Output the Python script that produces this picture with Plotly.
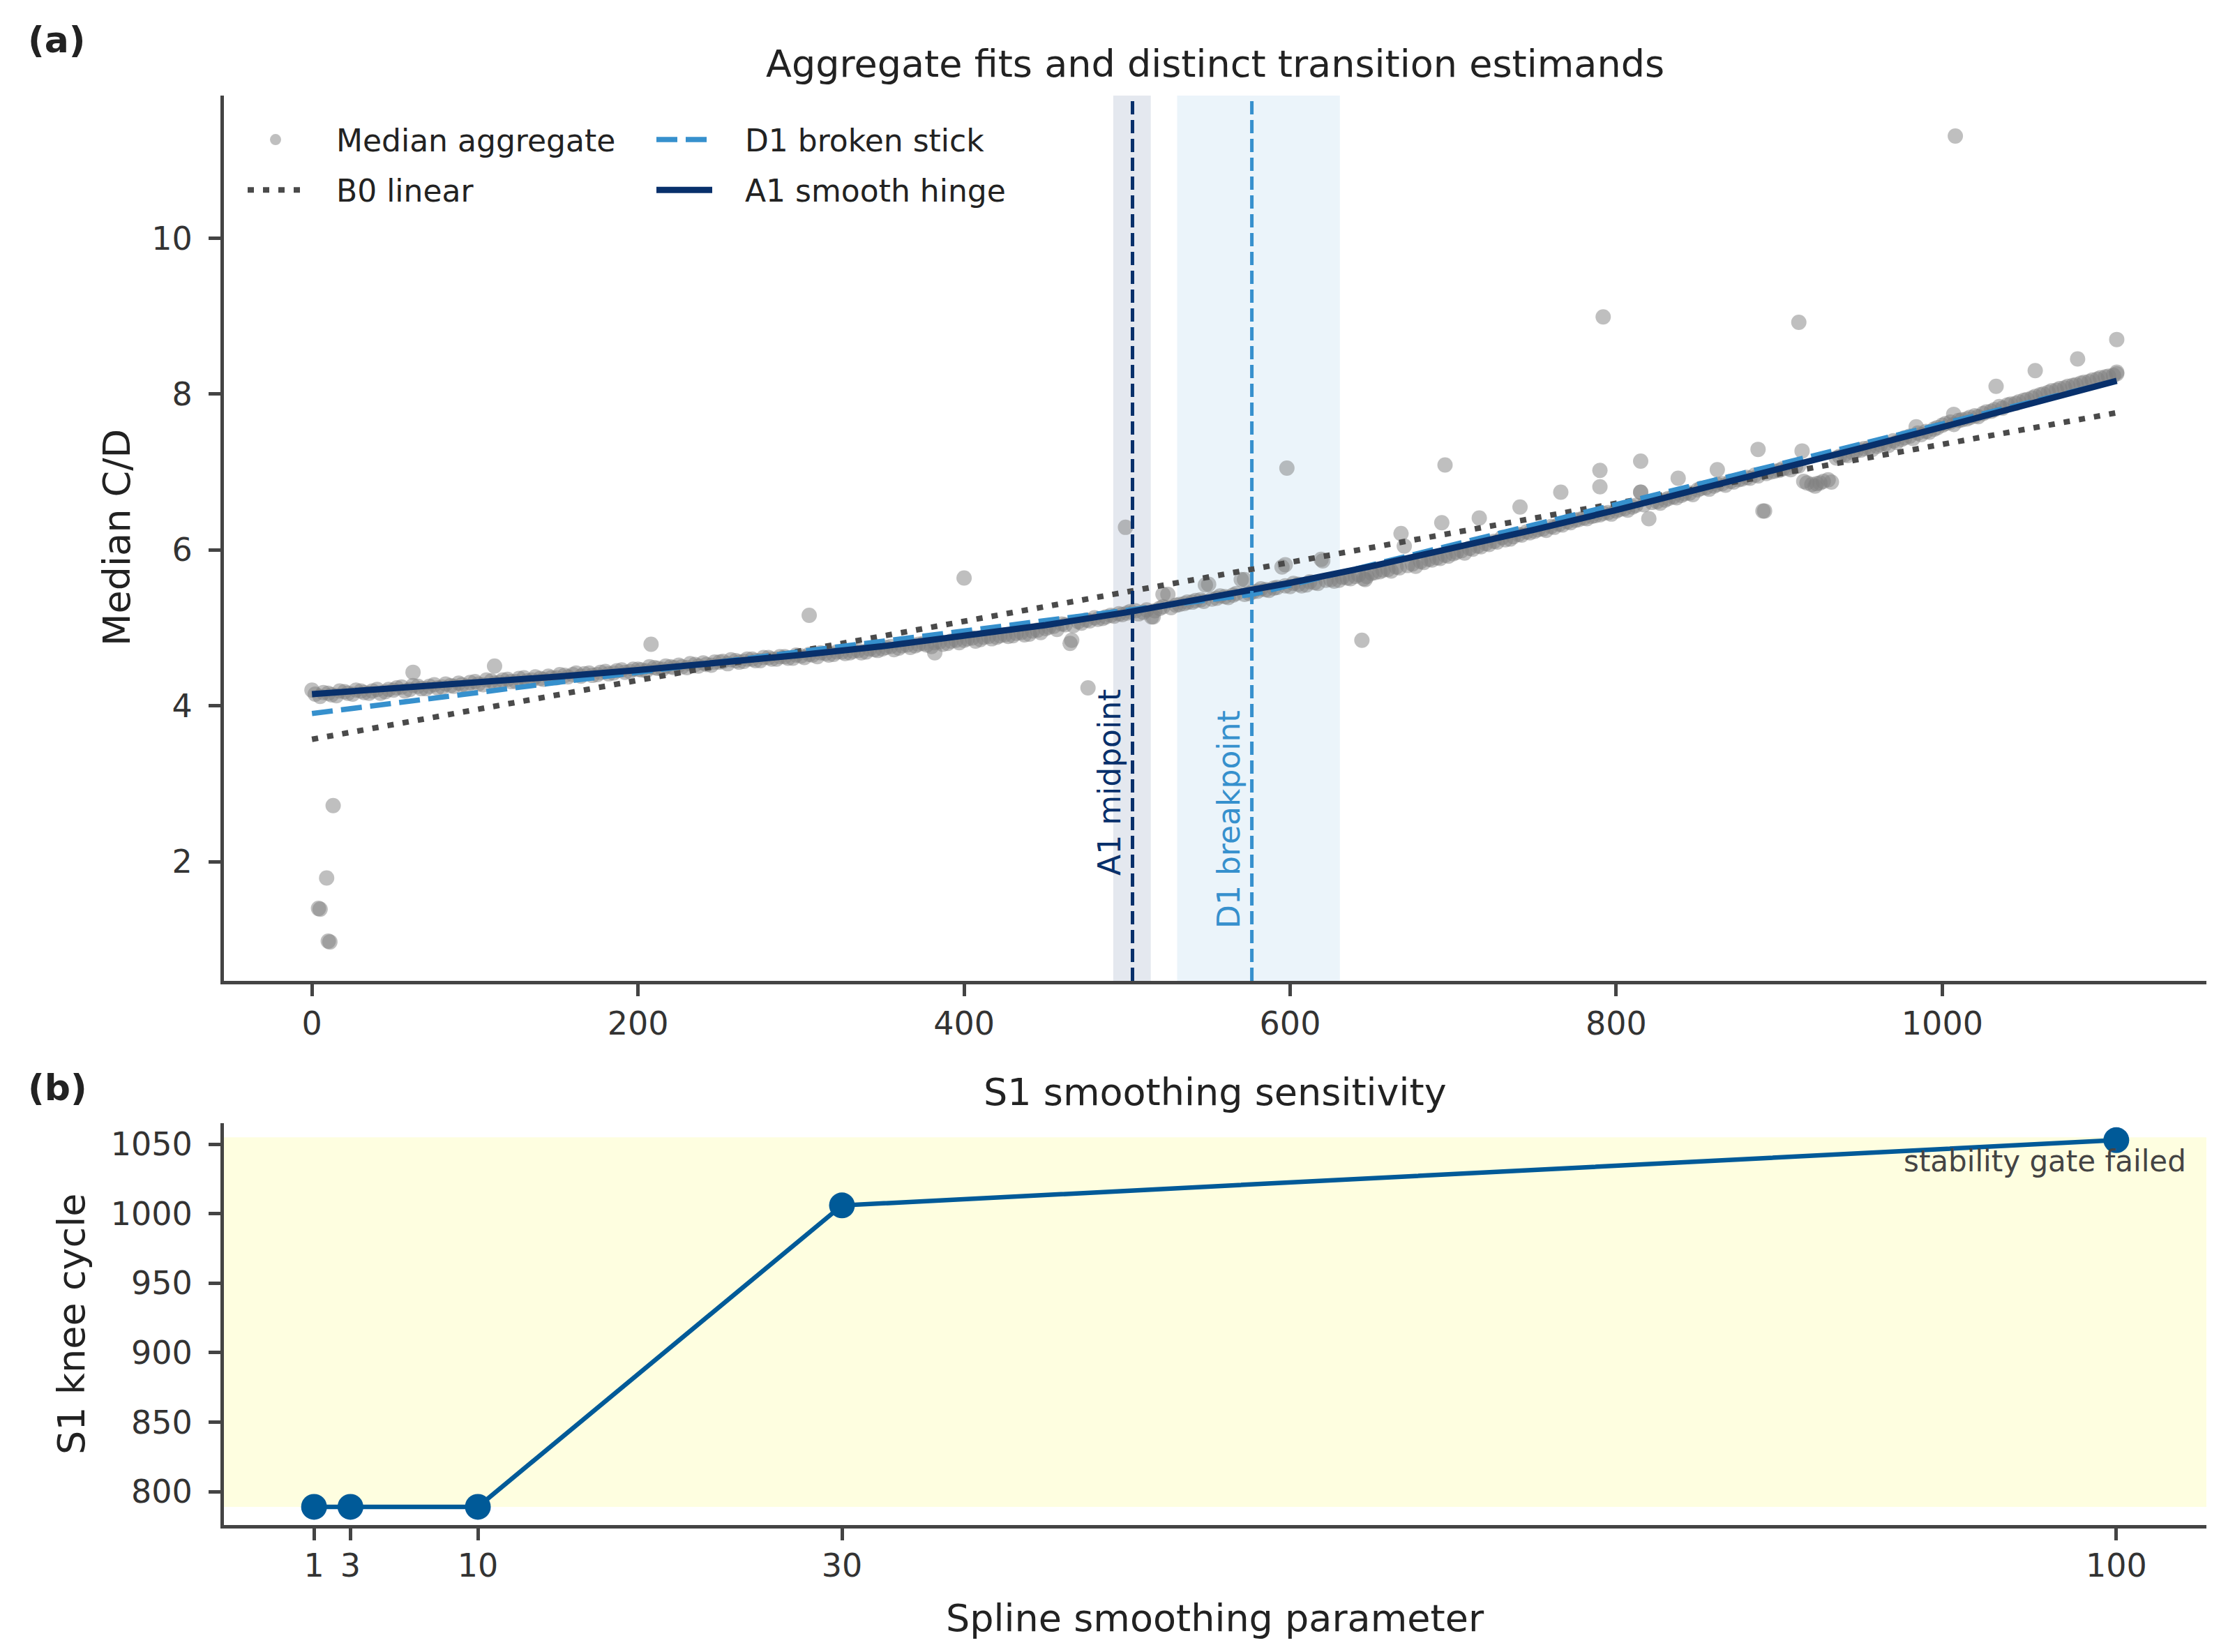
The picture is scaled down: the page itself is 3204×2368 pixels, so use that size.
import plotly.graph_objects as go

# ---------------- data ----------------
agg_cycle = list(range(0, 1106, 5))
agg_cd = [
    4.20, 4.12, 4.16, 4.13, 4.18, 4.15, 4.19, 4.16, 4.21, 4.18,
    4.20, 4.24, 4.21, 4.25, 4.22, 4.27, 4.24, 4.26, 4.29, 4.25,
    4.31, 4.27, 4.32, 4.30, 4.34, 4.31, 4.36, 4.33, 4.35, 4.38,
    4.36, 4.39, 4.40, 4.38, 4.42, 4.40, 4.44, 4.42, 4.46, 4.44,
    4.47, 4.45, 4.49, 4.47, 4.50, 4.52, 4.49, 4.53, 4.55, 4.52,
    4.56, 4.54, 4.58, 4.57, 4.60, 4.58, 4.62, 4.60, 4.63, 4.61,
    4.64, 4.66, 4.63, 4.67, 4.66, 4.69, 4.68, 4.71, 4.69, 4.72,
    4.73, 4.76, 4.74, 4.78, 4.77, 4.80, 4.76, 4.82, 4.80, 4.84,
    4.84, 4.87, 4.85, 4.89, 4.88, 4.91, 4.90, 4.94, 4.92, 4.97,
    4.99, 5.02, 5.05, 4.80, 5.08, 5.10, 5.13, 5.12, 5.16, 5.18,
    5.19, 5.22, 5.20, 5.14, 5.25, 5.43, 5.29, 5.31, 5.33, 5.36,
    5.56, 5.38, 5.40, 5.42, 5.62, 5.44, 5.47, 5.49, 5.51, 5.78,
    5.53, 5.56, 5.55, 5.58, 5.86, 5.62, 5.61, 5.64, 5.66, 5.63,
    5.70, 5.72, 5.75, 5.78, 6.05, 5.82, 5.85, 5.88, 5.90, 5.93,
    5.95, 5.99, 6.02, 6.05, 6.08, 6.11, 6.16, 6.14, 6.20, 6.23,
    6.24, 6.27, 6.30, 6.33, 6.36, 6.38, 6.41, 6.43, 6.45, 6.48,
    6.50, 6.53, 6.55, 6.74, 6.40, 6.62, 6.64, 6.68, 6.70, 6.73,
    6.77, 6.80, 6.82, 6.85, 6.88, 6.90, 6.93, 6.96, 6.50, 7.00,
    7.02, 7.05, 7.07, 6.88, 6.84, 6.86, 6.90, 7.18, 7.22, 7.25,
    7.28, 7.31, 7.33, 7.36, 7.40, 7.42, 7.46, 7.50, 7.52, 7.55,
    7.60, 7.64, 7.66, 7.68, 7.72, 7.75, 7.78, 7.84, 7.86, 7.88,
    7.92, 7.95, 7.99, 8.02, 8.05, 8.08, 8.11, 8.14, 8.16, 8.19, 8.22, 8.24,
]
agg_cycle_b = list(range(2, 1108, 5))
agg_cd_b = [
    4.15, 4.17, 4.14, 4.19, 4.16, 4.20, 4.17, 4.19, 4.16, 4.21,
    4.23, 4.19, 4.26, 4.22, 4.25, 4.23, 4.28, 4.25, 4.27, 4.30,
    4.28, 4.33, 4.29, 4.33, 4.31, 4.35, 4.32, 4.37, 4.34, 4.36,
    4.40, 4.37, 4.42, 4.41, 4.39, 4.43, 4.41, 4.45, 4.43, 4.47,
    4.46, 4.50, 4.48, 4.51, 4.49, 4.50, 4.54, 4.51, 4.53, 4.56,
    4.57, 4.59, 4.56, 4.60, 4.58, 4.62, 4.60, 4.63, 4.61, 4.65,
    4.62, 4.65, 4.68, 4.65, 4.69, 4.67, 4.70, 4.68, 4.73, 4.71,
    4.75, 4.72, 4.77, 4.75, 4.79, 4.78, 4.81, 4.79, 4.83, 4.81,
    4.86, 4.83, 4.88, 4.86, 4.90, 4.89, 4.93, 4.91, 4.96, 4.94,
    5.01, 4.98, 5.04, 5.03, 5.06, 5.09, 5.11, 5.14, 5.15, 5.17,
    5.21, 5.18, 5.23, 5.22, 5.27, 5.26, 5.30, 5.33, 5.35, 5.34,
    5.37, 5.41, 5.39, 5.44, 5.43, 5.46, 5.50, 5.48, 5.52, 5.54,
    5.57, 5.54, 5.59, 5.57, 5.61, 5.60, 5.65, 5.63, 5.68, 5.66,
    5.71, 5.74, 5.73, 5.77, 5.80, 5.79, 5.84, 5.87, 5.89, 5.92,
    5.97, 5.96, 6.01, 6.04, 6.07, 6.10, 6.13, 6.17, 6.19, 6.22,
    6.26, 6.25, 6.29, 6.32, 6.35, 6.39, 6.40, 6.44, 6.47, 6.46,
    6.52, 6.51, 6.57, 6.58, 6.61, 6.60, 6.66, 6.67, 6.72, 6.71,
    6.79, 6.78, 6.84, 6.83, 6.87, 6.91, 6.92, 6.95, 6.98, 7.01,
    7.04, 7.03, 7.08, 6.86, 6.82, 6.88, 6.87, 7.20, 7.21, 7.27,
    7.30, 7.29, 7.35, 7.34, 7.38, 7.44, 7.43, 7.48, 7.51, 7.57,
    7.62, 7.61, 7.67, 7.70, 7.71, 7.77, 7.80, 7.82, 7.87, 7.90,
    7.93, 7.97, 8.00, 8.04, 8.07, 8.10, 8.12, 8.15, 8.18, 8.21, 8.23, 8.26,
]
out_cycle = [4, 5, 9, 10, 11, 13, 62, 112, 208, 305, 382, 400,
             466, 476, 499, 516, 522, 548, 572, 597, 598, 619, 644, 646,
             668, 693, 695, 716, 741, 766, 790, 790, 792, 815, 815, 838,
             862, 887, 891, 912, 914, 923, 984, 1007, 1008, 1033, 1057, 1083,
             1107, 1107]
out_cd = [1.40, 1.39, 1.79, 0.98, 0.97, 2.72, 4.43, 4.51, 4.79, 5.16, 4.68, 5.64,
          4.84, 4.23, 6.29, 5.14, 5.43, 5.55, 5.62, 5.81, 7.05, 5.88, 4.84, 5.62,
          6.21, 6.35, 7.09, 6.41, 6.55, 6.74, 7.02, 6.81, 8.99, 7.14, 6.74, 6.92,
          7.03, 7.29, 6.50, 8.92, 7.27, 6.85, 7.58, 7.74, 11.31, 8.10, 8.30, 8.45,
          8.70, 8.28]

b0_cycle = [0, 1107]
b0_cd = [3.57, 7.76]
d1_cycle = [0, 577, 1107]
d1_cd = [3.90, 5.43, 8.17]
a1_cycle = [0, 50, 100, 150, 200, 250, 300, 350, 400, 450, 500, 550, 600,
            650, 700, 750, 800, 850, 900, 950, 1000, 1050, 1100, 1107]
a1_cd = [4.150, 4.220, 4.295, 4.374, 4.458, 4.550, 4.652, 4.764, 4.891, 5.036,
         5.200, 5.379, 5.577, 5.791, 6.020, 6.261, 6.512, 6.770, 7.035, 7.305,
         7.576, 7.852, 8.129, 8.170]

a1_mid = 503.3
a1_band = [491.5, 514.5]
d1_break = 576.5
d1_band = [530.7, 630.5]

smooth_param = [1, 3, 10, 30, 100]
knee_cycle = [789, 789, 789, 1006, 1053]
gate_band = [789, 1055]

top_xticks = [0, 200, 400, 600, 800, 1000]
top_yticks = [2, 4, 6, 8, 10]
bot_yticks = [800, 850, 900, 950, 1000, 1050]

# ---------------- layout helpers ----------------
W, H = 3204, 2368
L, R, T, B = 321, 3163, 137, 2186
TOP_AX_BOTTOM = 1406
BOT_AX_TOP = 1610


def px(x):
    return (x - L) / (R - L)


def py(y):
    return (B - y) / (B - T)


FONT = "DejaVu Sans"
NAVY = "#08306b"
LBLUE = "#3690cd"
DGRAY = "#4a4a4a"
LINEB = "#005a98"
AX = "#444444"
GAP = "\u00a0\u00a0\u00a0"

fig = go.Figure()
fig.add_trace(go.Scatter(
    x=agg_cycle + agg_cycle_b + out_cycle, y=agg_cd + agg_cd_b + out_cd,
    mode="markers", name=GAP + "Median aggregate",
    marker=dict(size=22, color="rgba(128,128,128,0.5)", line=dict(width=0)),
    legend="legend", legendgroup="g1", xaxis="x", yaxis="y"))
fig.add_trace(go.Scatter(
    x=b0_cycle, y=b0_cd, mode="lines", name=GAP + "B0 linear",
    line=dict(color=DGRAY, width=8, dash="9px,13px"),
    legend="legend", legendgroup="g2", xaxis="x", yaxis="y"))
fig.add_trace(go.Scatter(
    x=d1_cycle, y=d1_cd, mode="lines", name=GAP + "D1 broken stick",
    line=dict(color=LBLUE, width=7.5, dash="30px,12px"),
    legend="legend2", legendgroup="g3", xaxis="x", yaxis="y"))
fig.add_trace(go.Scatter(
    x=a1_cycle, y=a1_cd, mode="lines", name=GAP + "A1 smooth hinge",
    line=dict(color=NAVY, width=9),
    legend="legend2", legendgroup="g4", xaxis="x", yaxis="y"))
fig.add_trace(go.Scatter(
    x=smooth_param, y=knee_cycle, mode="lines+markers", showlegend=False,
    line=dict(color=LINEB, width=6.5), marker=dict(size=37, color=LINEB),
    xaxis="x2", yaxis="y2"))

shapes = [
    dict(type="rect", xref="x", yref="y domain", x0=a1_band[0], x1=a1_band[1], y0=0, y1=1,
         fillcolor=NAVY, opacity=0.11, line_width=0, layer="below"),
    dict(type="rect", xref="x", yref="y domain", x0=d1_band[0], x1=d1_band[1], y0=0, y1=1,
         fillcolor=LBLUE, opacity=0.1, line_width=0, layer="below"),
    dict(type="line", xref="x", yref="y domain", x0=a1_mid, x1=a1_mid, y0=0, y1=1,
         line=dict(color=NAVY, width=5, dash="19px,8px")),
    dict(type="line", xref="x", yref="y domain", x0=d1_break, x1=d1_break, y0=0, y1=1,
         line=dict(color=LBLUE, width=5, dash="19px,8px")),
    dict(type="rect", xref="x2 domain", yref="y2", x0=0, x1=1, y0=gate_band[0], y1=gate_band[1],
         fillcolor="#fefee0", line_width=0, layer="below"),
]

TXT = "#222222"
annotations = [
    dict(text="<b>(a)</b>", x=px(38), y=py(57), xref="paper", yref="paper",
         xanchor="left", yanchor="middle", showarrow=False, font=dict(family=FONT, size=52, color=TXT)),
    dict(text="<b>(b)</b>", x=px(38), y=py(1559), xref="paper", yref="paper",
         xanchor="left", yanchor="middle", showarrow=False, font=dict(family=FONT, size=52, color=TXT)),
    dict(text="Aggregate fits and distinct transition estimands", x=0.5, y=py(92), xref="paper", yref="paper",
         xanchor="center", yanchor="middle", showarrow=False, font=dict(family=FONT, size=54, color=TXT)),
    dict(text="S1 smoothing sensitivity", x=0.5, y=py(1565), xref="paper", yref="paper",
         xanchor="center", yanchor="middle", showarrow=False, font=dict(family=FONT, size=54, color=TXT)),
    dict(text="Median C/D", x=px(168), y=py(771), xref="paper", yref="paper", textangle=-90,
         xanchor="center", yanchor="middle", showarrow=False, font=dict(family=FONT, size=54, color=TXT)),
    dict(text="S1 knee cycle", x=px(102), y=py(1898), xref="paper", yref="paper", textangle=-90,
         xanchor="center", yanchor="middle", showarrow=False, font=dict(family=FONT, size=54, color=TXT)),
    dict(text="Spline smoothing parameter", x=0.5, y=py(2319), xref="paper", yref="paper",
         xanchor="center", yanchor="middle", showarrow=False, font=dict(family=FONT, size=54, color=TXT)),
    dict(text="A1 midpoint", x=a1_mid, y=1.80, xref="x", yref="y", textangle=-90,
         xanchor="right", yanchor="bottom", xshift=-5, showarrow=False,
         font=dict(family=FONT, size=44, color=NAVY)),
    dict(text="D1 breakpoint", x=d1_break, y=1.12, xref="x", yref="y", textangle=-90,
         xanchor="right", yanchor="bottom", xshift=-5, showarrow=False,
         font=dict(family=FONT, size=44, color=LBLUE)),
    dict(text="stability gate failed", x=103.9, y=1038, xref="x2", yref="y2",
         xanchor="right", yanchor="middle", showarrow=False,
         font=dict(family=FONT, size=42, color="#444444")),
]

axis_common = dict(showline=True, linecolor=AX, linewidth=5, ticks="outside", ticklen=17,
                   tickwidth=5, tickcolor=AX, showgrid=False, zeroline=False,
                   tickfont=dict(family=FONT, size=46, color="#333333"))

legend_common = dict(xanchor="left", yanchor="top", bgcolor="rgba(0,0,0,0)",
                     font=dict(family=FONT, size=44, color=TXT), tracegroupgap=12,
                     orientation="v", itemwidth=80)

fig.update_layout(
    width=W, height=H, autosize=False,
    margin=dict(l=L, r=W - R, t=T, b=H - B, pad=0),
    paper_bgcolor="white", plot_bgcolor="white",
    font=dict(family=FONT, color=TXT),
    xaxis=dict(domain=[0, 1], anchor="y", range=[-54, 1162], tickvals=top_xticks, **axis_common),
    yaxis=dict(domain=[py(TOP_AX_BOTTOM), 1], anchor="x", range=[0.47, 11.83], tickvals=top_yticks,
               ticklabelstandoff=14, **axis_common),
    xaxis2=dict(domain=[0, 1], anchor="y2", range=[-3.95, 104.95], tickvals=smooth_param,
                ticklabelstandoff=-3, **axis_common),
    yaxis2=dict(domain=[0, py(BOT_AX_TOP)], anchor="x2", range=[775.9, 1065.2], tickvals=bot_yticks,
                ticklabelstandoff=14, **axis_common),
    legend=dict(x=px(350), y=py(165), **legend_common),
    legend2=dict(x=px(936), y=py(165), **legend_common),
    shapes=shapes,
    annotations=annotations,
    showlegend=True,
)

fig.write_html("out.html")
